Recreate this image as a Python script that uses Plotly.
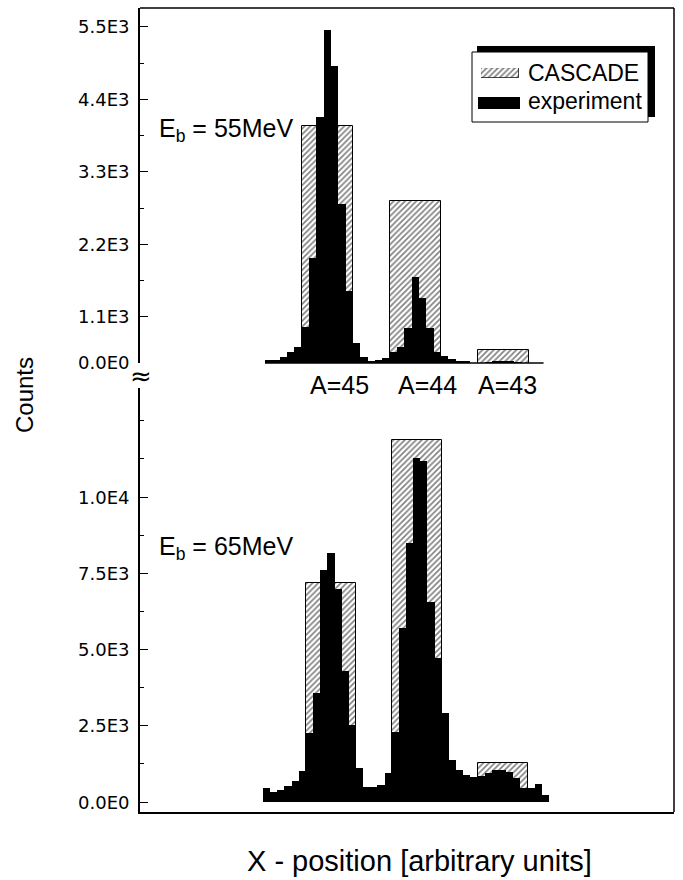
import plotly.graph_objects as go

W, H = 683, 880

# ---------------- data ----------------
# E_b = 55 MeV panel (channel bins); the axis is broken below ~0.4E3
top_exp = [455, 455, 490, 566, 645, 953, 1999, 4137, 5451, 4909, 2808, 1499, 706,
           490, 429, 455, 478, 576, 650, 929, 1710, 1383, 929, 576, 507, 461, 429, 429,
           0, 0, 417, 432, 440, 432, 417, 0, 0, 0]
top_casc_center = [8.5, 20.5, 32.5]
top_casc_height = [3996, 2862, 599]

# E_b = 65 MeV panel
bot_exp = [459, 328, 394, 525, 689, 1017, 2263, 3575, 7610, 8167, 6986, 4297, 2526,
           1115, 492, 492, 558, 951, 2300, 5700, 8500, 11283, 11185, 6560, 4723, 2919,
           1378, 1050, 886, 820, 853, 951, 1050, 1050, 984, 787, 459, 459, 590, 230]
bot_casc_center = [9.5, 21.5, 33.5]
bot_casc_height = [7180, 11870, 1280]

casc_width = 7
mass_labels = ["A=45", "A=44", "A=43"]

top_tickvals = [402, 1100, 2200, 3300, 4400, 5500]
top_ticktext = ["0.0E0", "1.1E3", "2.2E3", "3.3E3", "4.4E3", "5.5E3"]
top_minor = [1650, 2750, 3850, 4950]
bot_tickvals = [0, 2500, 5000, 7500, 10000]
bot_ticktext = ["0.0E0", "2.5E3", "5.0E3", "7.5E3", "1.0E4"]

# ---------------- helpers ----------------
def px(x):
    return x / W

def py(y):
    return 1 - y / H

NARROW = "Liberation Sans Narrow, Arial Narrow, Liberation Sans, Arial, sans-serif"
TICKF = "DejaVu Sans, Liberation Sans, sans-serif"

hatch = dict(shape="/", fgcolor="black", bgcolor="white", size=4, solidity=0.4)

fig = go.Figure()

fig.add_trace(go.Bar(x=top_casc_center, y=top_casc_height, width=casc_width,
                     marker=dict(color="white", pattern=hatch,
                                 line=dict(color="black", width=1)),
                     xaxis="x", yaxis="y", showlegend=False, hoverinfo="skip"))
fig.add_trace(go.Bar(x=bot_casc_center, y=bot_casc_height, width=casc_width,
                     marker=dict(color="white", pattern=hatch,
                                 line=dict(color="black", width=1)),
                     xaxis="x2", yaxis="y2", showlegend=False, hoverinfo="skip"))
fig.add_trace(go.Bar(x=[i + 0.5 for i in range(len(top_exp))], y=top_exp, width=1,
                     marker=dict(color="black", line=dict(width=0)),
                     xaxis="x", yaxis="y", showlegend=False, hoverinfo="skip"))
fig.add_trace(go.Bar(x=[i + 0.5 for i in range(len(bot_exp))], y=bot_exp, width=1,
                     marker=dict(color="black", line=dict(width=0)),
                     xaxis="x2", yaxis="y2", showlegend=False, hoverinfo="skip"))
# legend hatched swatch
fig.add_trace(go.Bar(x=[0.5], y=[1], width=1,
                     marker=dict(color="white", pattern=hatch,
                                 line=dict(color="black", width=0.8)),
                     xaxis="x3", yaxis="y3", showlegend=False, hoverinfo="skip"))

xdom = [px(140), px(674)]
axis_common = dict(showgrid=False, zeroline=False)
tick_common = dict(ticks="inside", ticklen=8, tickwidth=1.3, tickcolor="black",
                   showticklabels=False)

fig.update_layout(
    width=W, height=H, margin=dict(l=0, r=0, t=0, b=0),
    paper_bgcolor="white", plot_bgcolor="rgba(0,0,0,0)",
    barmode="overlay", bargap=0, showlegend=False,
    xaxis=dict(domain=xdom, range=[(140 - 265) / 7.33, (674 - 265) / 7.33],
               anchor="y", visible=False, **axis_common),
    yaxis=dict(domain=[py(363), py(8)], range=[402, 5788], anchor="x",
               showline=True, linecolor="black", linewidth=1.5,
               tickvals=top_tickvals,
               minor=dict(tickvals=top_minor, ticks="inside", ticklen=4,
                          tickwidth=1.2, tickcolor="black"),
               **tick_common, **axis_common),
    xaxis2=dict(domain=xdom, range=[(140 - 263) / 7.15, (674 - 263) / 7.15],
                anchor="y2", showline=True, linecolor="black", linewidth=1.5,
                showticklabels=False, ticks="", **axis_common),
    yaxis2=dict(domain=[py(812), py(388)], range=[-328, 13574], anchor="x2",
                showline=True, linecolor="black", linewidth=1.5,
                tickvals=bot_tickvals,
                minor=dict(dtick=1250, tick0=0, ticks="inside", ticklen=4,
                           tickwidth=1.2, tickcolor="black"),
                **tick_common, **axis_common),
    xaxis3=dict(domain=[px(481), px(519)], range=[0, 1], anchor="y3",
                visible=False, fixedrange=True),
    yaxis3=dict(domain=[py(78), py(68)], range=[0, 1], anchor="x3",
                visible=False, fixedrange=True),
)

shapes = []
# frame top and right
shapes.append(dict(type="line", xref="paper", yref="paper", x0=px(140), x1=px(674),
                   y0=py(8), y1=py(8), line=dict(color="black", width=1.5)))
shapes.append(dict(type="line", xref="paper", yref="paper", x0=px(674), x1=px(674),
                   y0=py(8), y1=py(812), line=dict(color="black", width=1.5)))
# top panel floor line
shapes.append(dict(type="line", xref="x", yref="y domain", x0=0, x1=len(top_exp),
                   y0=0, y1=0, line=dict(color="black", width=1.5)))
# legend box with shadow
shapes.append(dict(type="rect", xref="paper", yref="paper", x0=px(477), x1=px(655),
                   y0=py(52), y1=py(46), fillcolor="black", line=dict(width=0),
                   layer="below"))
shapes.append(dict(type="rect", xref="paper", yref="paper", x0=px(648), x1=px(655),
                   y0=py(117), y1=py(46), fillcolor="black", line=dict(width=0),
                   layer="below"))
shapes.append(dict(type="rect", xref="paper", yref="paper", x0=px(472), x1=px(648),
                   y0=py(122), y1=py(52), fillcolor="white",
                   line=dict(color="black", width=1), layer="below"))
# legend black swatch
shapes.append(dict(type="rect", xref="paper", yref="paper", x0=px(478), x1=px(520),
                   y0=py(109), y1=py(97), fillcolor="black", line=dict(width=0)))
fig.update_layout(shapes=shapes)

ann = []
def text(x, y, s, size, xanchor="left", angle=0, family=NARROW):
    ann.append(dict(x=px(x), y=py(y), xref="paper", yref="paper", text=s,
                    showarrow=False, xanchor=xanchor, yanchor="middle",
                    textangle=angle, font=dict(family=family, size=size, color="black")))

# y tick labels placed on each axis' own scale
for yref, vals, labs in [("y", top_tickvals, top_ticktext),
                         ("y2", bot_tickvals, bot_ticktext)]:
    for v, lab in zip(vals, labs):
        ann.append(dict(x=px(131), y=v, xref="paper", yref=yref, text=lab,
                        showarrow=False, xanchor="right", yanchor="middle",
                        font=dict(family=TICKF, size=18, color="black")))

text(157, 130, "E<sub>b</sub> = 55MeV", 25)
text(157, 548, "E<sub>b</sub> = 65MeV", 25)
for lab, xc in zip(mass_labels, [339, 427, 507]):
    text(xc, 385, lab, 25, xanchor="center")
text(526, 73, "CASCADE", 23)
text(526, 101, "experiment", 23)
text(24, 395, "Counts", 24, xanchor="center", angle=-90)
text(419, 861, "X - position [arbitrary units]", 29, xanchor="center")
text(141, 376, "≈", 26, xanchor="center", family="DejaVu Sans")
fig.update_layout(annotations=ann)

fig.write_html("out.html")
